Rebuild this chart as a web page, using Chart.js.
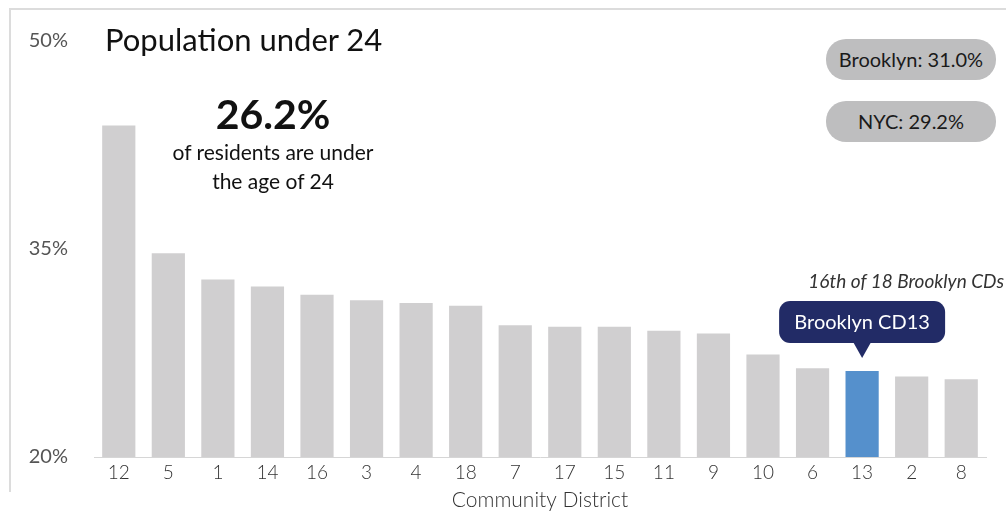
<!DOCTYPE html>
<html lang="en">
<head>
  <meta charset="UTF-8">
  <title>Population under 24</title>
  <script src="https://cdn.jsdelivr.net/npm/chart.js"></script>
  <style>
    body {
      margin: 0;
      font-family: Lato, "Open Sans", sans-serif;
      background: #fff;
    }
    #wrap {
      position: relative;
      width: 1006px;
      height: 513px;
      overflow: hidden;
    }
    #frame {
      position: absolute;
      left: 9px;
      top: 8px;
      width: 1010px;
      height: 482px;
      border-top: 2px solid #dcdcdc;
      border-left: 2px solid #dcdcdc;
    }
    canvas {
      position: absolute;
      left: 0;
      top: 0;
    }
    .title {
      position: absolute;
      left: 105px;
      top: 20px;
      font-size: 31px;
      color: #111;
    }
    .big {
      position: absolute;
      left: 140px;
      width: 266px;
      top: 91px;
      text-align: center;
      color: #111;
    }
    .big b {
      display: block;
      font-size: 41px;
      line-height: 46px;
    }
    .big span {
      display: block;
      font-size: 21px;
      line-height: 29px;
    }
    .pill {
      position: absolute;
      left: 826px;
      width: 170px;
      height: 41px;
      line-height: 41px;
      border-radius: 20px;
      background: #bebebf;
      text-align: center;
      font-size: 20px;
      color: #1a1a1a;
    }
    .rank {
      position: absolute;
      right: 2px;
      top: 269px;
      font-size: 19px;
      font-style: italic;
      color: #333;
    }
  </style>
</head>
<body>
<div id="wrap">
  <div id="frame"></div>
  <canvas id="grafico" width="1006" height="513"></canvas>
  <div class="title">Population under 24</div>
  <div class="big"><b>26.2%</b><span>of residents are under</span><span>the age of 24</span></div>
  <div class="pill" style="top:39px">Brooklyn: 31.0%</div>
  <div class="pill" style="top:101px">NYC: 29.2%</div>
  <div class="rank">16th of 18 Brooklyn CDs</div>
</div>

<script>
const districts = ["12", "5", "1", "14", "16", "3", "4", "18", "7", "17", "15", "11", "9", "10", "6", "13", "2", "8"];
const shares = [43.9, 34.7, 32.8, 32.3, 31.7, 31.3, 31.1, 30.9, 29.5, 29.4, 29.4, 29.1, 28.9, 27.4, 26.4, 26.2, 25.8, 25.6];
const yTicks = [20, 35, 50];
const highlight = "13";
const calloutText = "Brooklyn CD13";

const barColors = districts.map(d => d === highlight ? "#5590cc" : "#d0cfd0");

// globo oscuro sobre la barra destacada
const callout = {
  id: "callout",
  afterDatasetsDraw(chart) {
    const i = districts.indexOf(highlight);
    const x = chart.scales.x.getPixelForValue(i);
    const tip = chart.scales.y.getPixelForValue(shares[i]) - 13;
    const ctx = chart.ctx;
    const w = 166, h = 42, r = 11;
    const bottom = tip - 15, top = bottom - h, left = x - w / 2;
    ctx.save();
    ctx.fillStyle = "#222b66";
    ctx.beginPath();
    ctx.roundRect(left, top, w, h, r);
    ctx.fill();
    ctx.beginPath();
    ctx.moveTo(x - 9, bottom - 1);
    ctx.lineTo(x + 9, bottom - 1);
    ctx.lineTo(x, tip);
    ctx.closePath();
    ctx.fill();
    ctx.fillStyle = "#fff";
    ctx.font = "20px Lato, 'Open Sans', sans-serif";
    ctx.textAlign = "center";
    ctx.textBaseline = "middle";
    ctx.fillText(calloutText, x, top + h / 2 + 1);
    ctx.restore();
  }
};

new Chart(document.getElementById("grafico"), {
  type: "bar",
  data: {
    labels: districts,
    datasets: [{
      data: shares,
      backgroundColor: barColors,
      barPercentage: 0.67,
      categoryPercentage: 1
    }]
  },
  options: {
    responsive: false,
    animation: false,
    layout: { padding: { top: 41, right: 20, left: 0, bottom: 0 } },
    plugins: {
      legend: { display: false },
      tooltip: { enabled: false }
    },
    scales: {
      x: {
        grid: { display: false, drawTicks: false },
        border: { display: true, color: "#d6d6d6", width: 1 },
        ticks: { color: "#333", font: { size: 19, family: "Lato", weight: 300 }, padding: 4, maxRotation: 0 },
        title: { display: true, text: "Community District", color: "#333", font: { size: 21, family: "Lato", weight: 300 }, padding: { top: 0, bottom: 0 } },
        afterFit(scale) { scale.height = 56; }
      },
      y: {
        min: 20,
        max: 50,
        grid: { display: false, drawTicks: false },
        border: { display: false },
        afterBuildTicks(scale) { scale.ticks = yTicks.map(v => ({ value: v })); },
        ticks: { color: "#555", font: { size: 20, family: "Lato" }, padding: 26, callback: v => v + "%" },
        afterFit(scale) { scale.width = 94; }
      }
    }
  },
  plugins: [callout]
});
</script>
</body>
</html>
